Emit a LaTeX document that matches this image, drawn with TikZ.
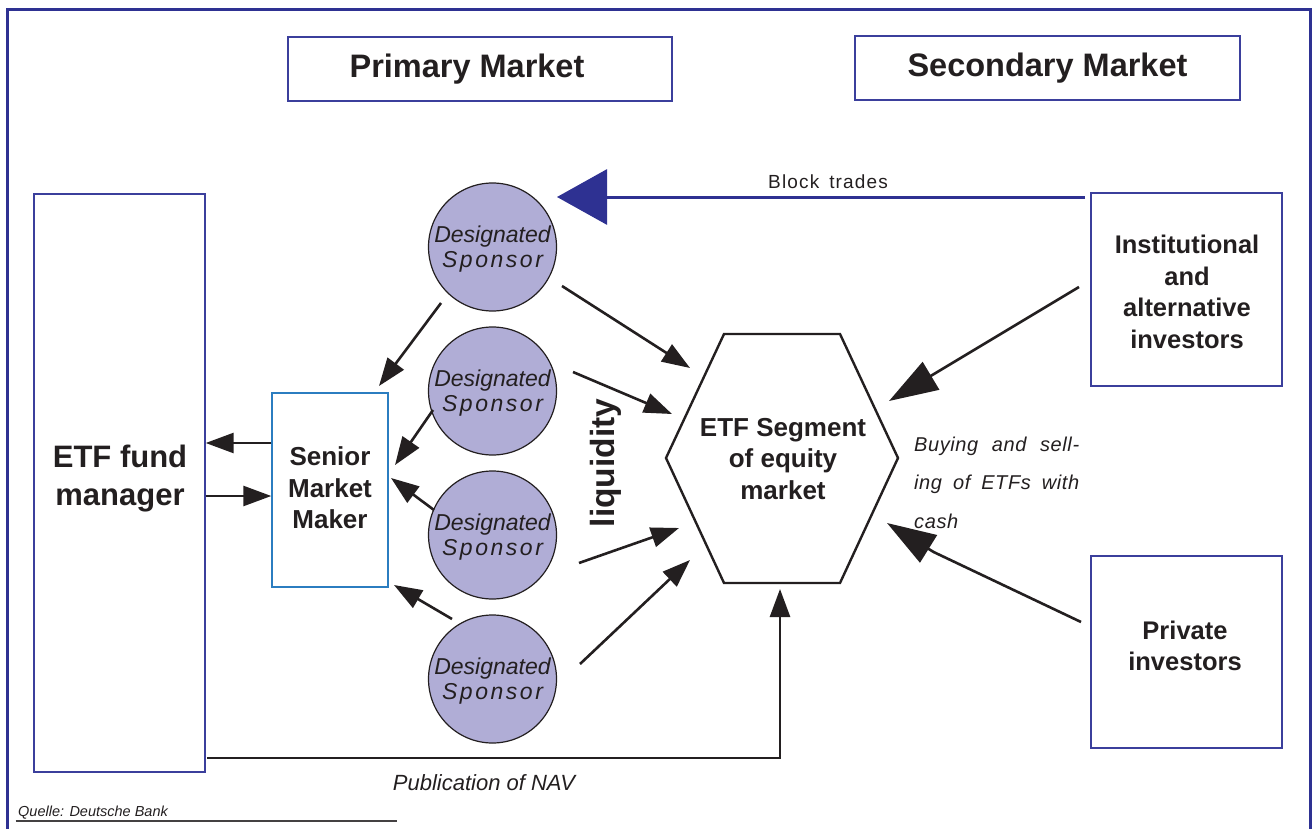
\documentclass[tikz,border=0pt]{standalone}
\usepackage{fontspec}
\setmainfont{Liberation Sans}
\usetikzlibrary{arrows.meta}
\definecolor{navy}{HTML}{2E3192}
\definecolor{lav}{HTML}{B0ADD6}
\definecolor{boxblue}{HTML}{3B3F9C}
\definecolor{smmblue}{HTML}{2B7DC0}
\definecolor{ink}{HTML}{231F20}
\begin{document}
\begin{tikzpicture}[x=1pt,y=-1pt,
  box/.style={draw=boxblue,line width=1.4pt,inner sep=0pt,align=center,text=ink},
  bold/.style={font=\fontsize{25.5}{31.7}\selectfont\bfseries},
  ds/.style={circle,draw=ink,line width=1.2pt,fill=lav,minimum size=128pt,inner sep=0pt},
  dstext/.style={inner sep=0pt,align=center,text=ink,font=\fontsize{23}{26}\selectfont\itshape},
  arr/.style={draw=ink,line width=2.6pt,-{Triangle[length=28pt,width=20pt]}},
  bigarr/.style={draw=ink,line width=2.6pt,line join=round,-{Triangle[length=49pt,width=32pt]}},
  lbl/.style={inner sep=0pt,text=ink}
]
\useasboundingbox (0,0) rectangle (1316,829);
% frame
\draw[navy,line width=3pt] (7.5,835) -- (7.5,9.5) -- (1310,9.5) -- (1310,835);

% market headers
\node[box,minimum width=384pt,minimum height=64pt,font=\fontsize{32.5}{36}\selectfont\bfseries] (prim) at (480,69) {Primary Market\hspace{26pt}};
\node[box,minimum width=385pt,minimum height=64pt,font=\fontsize{32.5}{36}\selectfont\bfseries] (sec) at (1047.5,68) {Secondary Market};

% left boxes
\node[box,minimum width=171pt,minimum height=578pt] (fm) at (119.5,483) {};
\node[lbl,align=center,font=\fontsize{31}{38}\selectfont\bfseries] (fmt) at (120,479) {ETF fund\\manager};
\node[box,draw=smmblue,minimum width=116pt,minimum height=194pt] (smm) at (330,490) {};
\node[lbl,align=center,font=\fontsize{26}{31.5}\selectfont\bfseries] (smmt) at (330,488) {Senior\\Market\\Maker};

% designated sponsors
\foreach \i/\y in {1/247,2/391,3/535,4/679}{
  \node[ds] (ds\i) at (492.5,\y) {};
  \node[dstext] (dst\i) at (492.5,\y+2.5) {Designated\\[-1pt]{\addfontfeatures{LetterSpace=11}Sponsor}};
}

% hexagon
\draw[ink,line width=2.4pt,line join=miter] (724,334) -- (840,334) -- (898,458) -- (840,583) -- (724,583) -- (666,458) -- cycle;
\node[lbl,align=center,font=\fontsize{26}{31.5}\selectfont\bfseries] (hex) at (783,459) {ETF Segment\\of equity\\market};

% investors
\node[box,minimum width=191pt,minimum height=193pt] (inst) at (1186.5,289.5) {};
\node[lbl,align=center,bold] (instt) at (1187,292) {Institutional\\and\\alternative\\investors};
\node[box,minimum width=191pt,minimum height=192pt] (priv) at (1186.5,652) {};
\node[lbl,align=center,bold] (privt) at (1185,646) {Private\\investors};

% block trades
\coordinate (bts) at (1085,197);
\coordinate (bte) at (557,197);
\draw[navy,line width=3pt,-{Triangle[length=50pt,width=55pt]}] (bts) -- (bte);
\node[lbl,font=\fontsize{19}{20}\selectfont\addfontfeatures{LetterSpace=6}] (btl) at (828,182) {Block\hspace{10pt}trades};

% liquidity
\node[lbl,rotate=90,font=\fontsize{33.5}{36}\selectfont\bfseries] (liq) at (606,463) {liquidity};

% buying text
\node[lbl,anchor=north west,text width=165pt,align=justify,font=\fontsize{20}{38.3}\selectfont\itshape\addfontfeatures{LetterSpace=3}] (buy) at (914,437)
  {Buying and sell-\linebreak ing of ETFs with\linebreak cash};

% arrows circles -> SMM
\coordinate (a1s) at (441,303);  \coordinate (a1e) at (379,386);
\coordinate (a2s) at (433,410);  \coordinate (a2e) at (395,465);
\coordinate (a3s) at (434,510);  \coordinate (a3e) at (391,478);
\coordinate (a4s) at (452,619);  \coordinate (a4e) at (394,585);
\draw[arr] (a1s) -- (a1e);
\draw[arr] (a2s) -- (a2e);
\draw[arr] (a3s) -- (a3e);
\draw[arr] (a4s) -- (a4e);
% circles -> hexagon
\coordinate (b1s) at (562,286);  \coordinate (b1e) at (690,368);
\coordinate (b2s) at (573,372);  \coordinate (b2e) at (672,414);
\coordinate (b3s) at (579,563);  \coordinate (b3e) at (679,528);
\coordinate (b4s) at (580,664);  \coordinate (b4e) at (690,560);
\draw[arr] (b1s) -- (b1e);
\draw[arr] (b2s) -- (b2e);
\draw[arr] (b3s) -- (b3e);
\draw[arr] (b4s) -- (b4e);
% investors -> hexagon
\coordinate (c1s) at (1079,287); \coordinate (c1e) at (889,401);
\coordinate (c2s) at (1081,622); \coordinate (c2m) at (933.6,552); \coordinate (c2e) at (887,523);
\draw[bigarr] (c1s) -- (c1e);
\draw[bigarr] (c2s) -- (c2m) -- (c2e);
% fund manager <-> SMM
\draw[arr] (smm.west |- 0,443) -- (fm.east |- 0,443);
\draw[arr] (fm.east |- 0,496) -- (smm.west |- 0,496);
% NAV
\coordinate (navs) at (207,758);
\coordinate (navc) at (780,758);
\coordinate (nave) at (780,589);
\draw[arr,line join=miter] (navs) -- (navc) -- (nave);
\node[lbl,font=\fontsize{22}{24}\selectfont\itshape] (nav) at (484,783) {Publication of NAV};

% source
\node[lbl,anchor=base west,font=\fontsize{14.5}{15}\selectfont\itshape] (src) at (18,816.5) {Quelle: Deutsche Bank};
\draw[ink!85,line width=1.2pt] (15.5,821) -- (397,821);
\end{tikzpicture}
\end{document}
